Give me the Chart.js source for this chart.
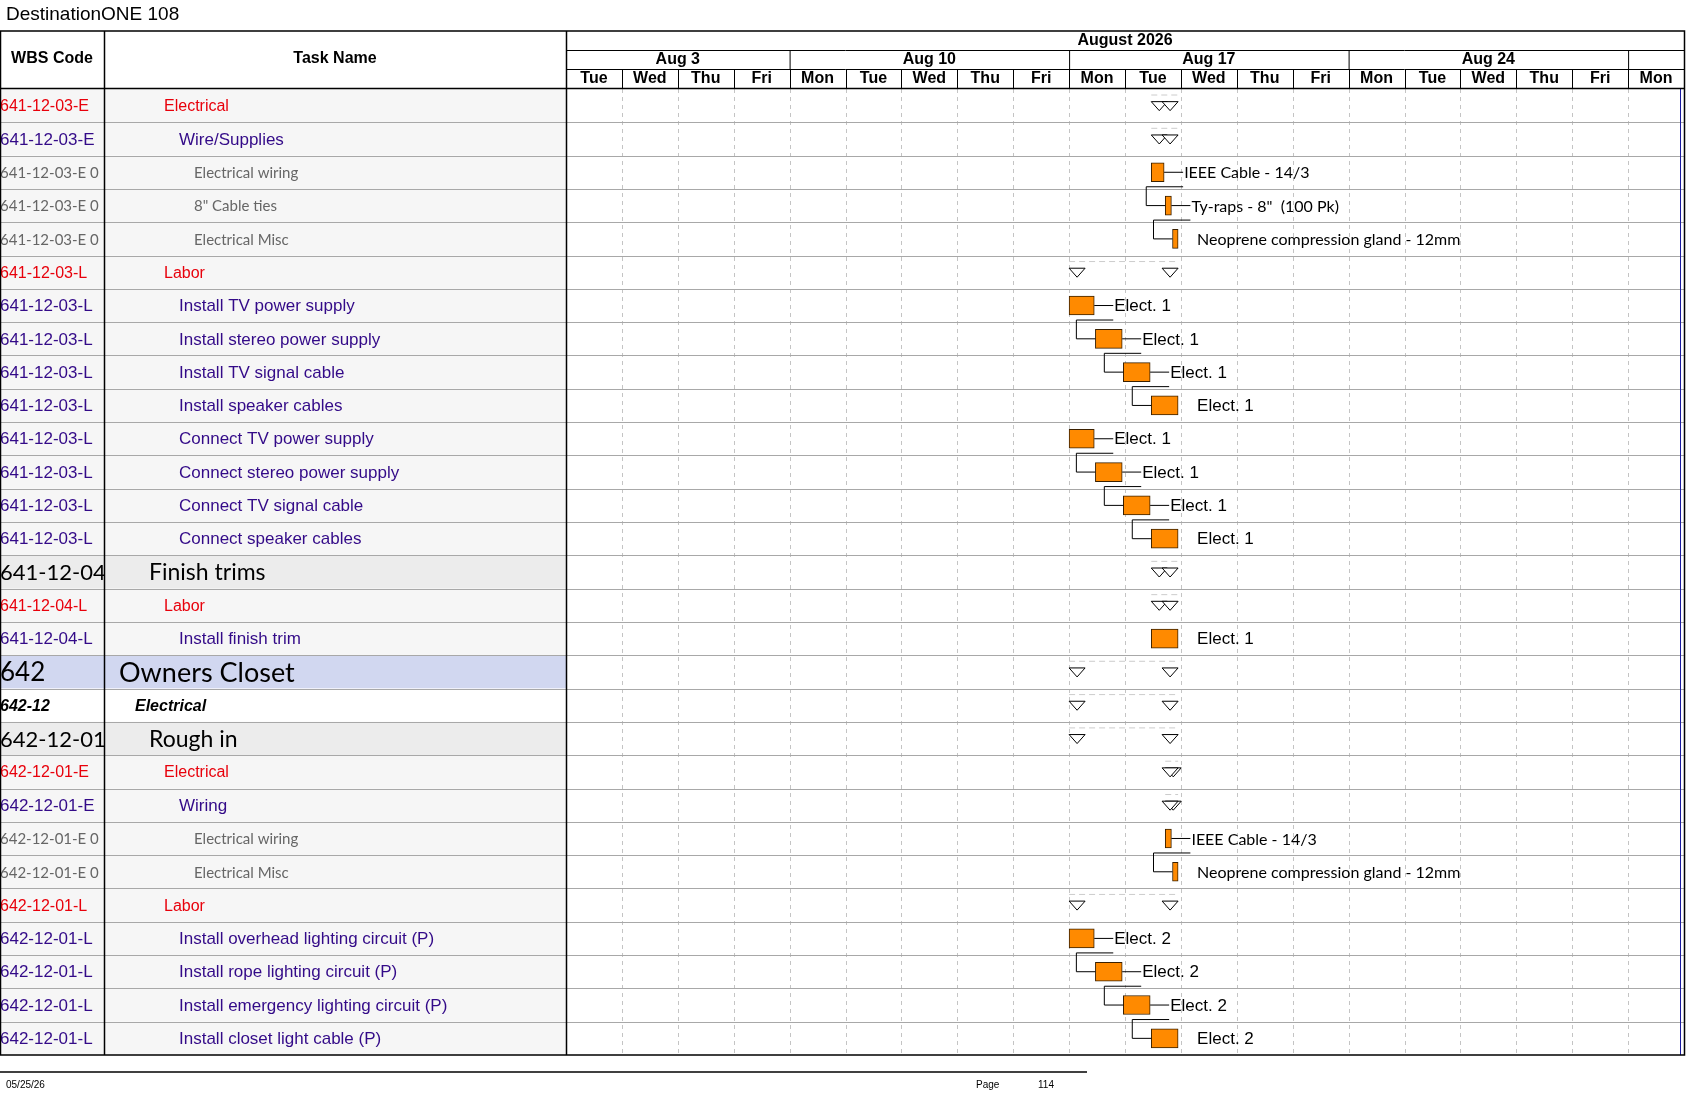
<!DOCTYPE html>
<html>
<head>
<meta charset="utf-8">
<script src="https://cdn.jsdelivr.net/npm/chart.js@4"></script>
<style>
  body { margin: 0; background: #fff; }
  canvas { display: block; }
</style>
</head>
<body>
<canvas id="gantt" width="1687" height="1097"></canvas>
<script>
/* ---------- DATA ---------- */
const wbsCodes = [
  "641-12-03-E", "641-12-03-E", "641-12-03-E 0", "641-12-03-E 0", "641-12-03-E 0",
  "641-12-03-L", "641-12-03-L", "641-12-03-L", "641-12-03-L", "641-12-03-L",
  "641-12-03-L", "641-12-03-L", "641-12-03-L", "641-12-03-L",
  "641-12-04", "641-12-04-L", "641-12-04-L",
  "642", "642-12", "642-12-01", "642-12-01-E", "642-12-01-E",
  "642-12-01-E 0", "642-12-01-E 0", "642-12-01-L",
  "642-12-01-L", "642-12-01-L", "642-12-01-L", "642-12-01-L"
];
const taskNames = [
  "Electrical", "Wire/Supplies", "Electrical wiring", "8\" Cable ties", "Electrical Misc",
  "Labor", "Install TV power supply", "Install stereo power supply", "Install TV signal cable", "Install speaker cables",
  "Connect TV power supply", "Connect stereo power supply", "Connect TV signal cable", "Connect speaker cables",
  "Finish trims", "Labor", "Install finish trim",
  "Owners Closet", "Electrical", "Rough in", "Electrical", "Wiring",
  "Electrical wiring", "Electrical Misc", "Labor",
  "Install overhead lighting circuit (P)", "Install rope lighting circuit (P)",
  "Install emergency lighting circuit (P)", "Install closet light cable (P)"
];
// outline level: cat = cost type, sub = task, mat = material, phase, area, trade
const rowLevels = [
  "cat", "sub", "mat", "mat", "mat",
  "cat", "sub", "sub", "sub", "sub", "sub", "sub", "sub", "sub",
  "phase", "cat", "sub",
  "area", "trade", "phase", "cat", "sub", "mat", "mat", "cat",
  "sub", "sub", "sub", "sub"
];
// working-day index: 0 = Tue Aug 4 ... 9 = Mon Aug 17
const taskStart = [
  null, null, 10.47, 10.72, 10.85,
  null, 9.0, 9.47, 9.97, 10.47, 9.0, 9.47, 9.97, 10.47,
  null, null, 10.47,
  null, null, null, null, null, 10.72, 10.85, null,
  9.0, 9.47, 9.97, 10.47
];
const taskEnd = [
  null, null, 10.7, 10.83, 10.95,
  null, 9.45, 9.95, 10.45, 10.95, 9.45, 9.95, 10.45, 10.95,
  null, null, 10.95,
  null, null, null, null, null, 10.83, 10.95, null,
  9.45, 9.95, 10.45, 10.95
];
const summaryStart = [
  10.47, 10.47, null, null, null,
  9.0, null, null, null, null, null, null, null, null,
  10.47, 10.47, null,
  9.0, 9.0, 9.0, 10.72, 10.72, null, null, 9.0,
  null, null, null, null
];
const summaryEnd = [
  10.95, 10.95, null, null, null,
  10.95, null, null, null, null, null, null, null, null,
  10.95, 10.95, null,
  10.95, 10.95, 10.95, 10.95, 10.95, null, null, 10.95,
  null, null, null, null
];
const resourceLabels = [
  "", "", "IEEE Cable - 14/3", "Ty-raps - 8\"  (100 Pk)", "Neoprene compression gland - 12mm",
  "", "Elect. 1", "Elect. 1", "Elect. 1", "Elect. 1", "Elect. 1", "Elect. 1", "Elect. 1", "Elect. 1",
  "", "", "Elect. 1",
  "", "", "", "", "", "IEEE Cable - 14/3", "Neoprene compression gland - 12mm", "",
  "Elect. 2", "Elect. 2", "Elect. 2", "Elect. 2"
];
const links = [[2, 3], [3, 4], [6, 7], [7, 8], [8, 9], [10, 11], [11, 12], [12, 13], [22, 23], [25, 26], [26, 27], [27, 28]];

const weekLabels = ["Aug 3", "Aug 10", "Aug 17", "Aug 24", ""];
const weekSpans = [4, 5, 5, 5, 1];
const dayLabels = ["Tue", "Wed", "Thu", "Fri", "Mon", "Tue", "Wed", "Thu", "Fri",
  "Mon", "Tue", "Wed", "Thu", "Fri", "Mon", "Tue", "Wed", "Thu", "Fri", "Mon"];
const monthLabel = "August 2026";

/* ---------- STYLE ---------- */
const LEFT_W = 566, WBS_W = 104, TOP = 31, BODY_TOP = 89, RIGHT = 1684, BOTTOM = 1055;
const rowStyle = {
  cat:   { color: "#e8000b", font: "16px Arial", x: 164, wbsFont: "16px Arial", bg: "#f6f6f6" },
  sub:   { color: "#330a88", font: "17px Arial", x: 179, wbsFont: "17px Arial", bg: "#f6f6f6" },
  mat:   { color: "#666666", font: "15px Lato", x: 194, wbsFont: "15px Lato", bg: "#f6f6f6" },
  phase: { color: "#000000", font: "23px Lato", x: 149, wbsFont: "22px Lato", bg: "#ececec" },
  area:  { color: "#000000", font: "27px Lato", x: 119, wbsFont: "26px Lato", bg: "#d1d7f0" },
  trade: { color: "#000000", font: "italic bold 16px Arial", x: 135, wbsFont: "italic bold 16px Arial", bg: "#ffffff" }
};

/* ---------- PLUGIN: table, header, grid, gantt extras ---------- */
const ganttPlugin = {
  id: "gantt",
  beforeDatasetsDraw(chart) {
    const { ctx, scales: { x, y } } = chart;
    const half = (y.getPixelForValue(1) - y.getPixelForValue(0)) / 2;
    ctx.save();
    // left table rows
    taskNames.forEach((name, i) => {
      const st = rowStyle[rowLevels[i]];
      const cy = y.getPixelForValue(i);
      ctx.fillStyle = st.bg;
      ctx.fillRect(0, cy - half, LEFT_W, half * 2);
      ctx.textBaseline = "middle";
      ctx.textAlign = "left";
      ctx.fillStyle = st.color;
      ctx.font = st.wbsFont;
      ctx.save();
      ctx.beginPath(); ctx.rect(0, cy - half, WBS_W, half * 2); ctx.clip();
      ctx.fillText(wbsCodes[i], 0, cy + 1);
      ctx.restore();
      ctx.font = st.font;
      ctx.fillText(name, st.x, cy + 1);
    });
    // day grid (dashed)
    ctx.strokeStyle = "#c4c4c4";
    ctx.lineWidth = 1;
    ctx.setLineDash([4, 4]);
    for (let d = 1; d < dayLabels.length; d++) {
      const px = Math.round(x.getPixelForValue(d)) + 0.5;
      ctx.beginPath(); ctx.moveTo(px, BODY_TOP); ctx.lineTo(px, BOTTOM); ctx.stroke();
    }
    ctx.setLineDash([]);
    // row separators
    ctx.strokeStyle = "#a8a8a8";
    for (let i = 1; i < taskNames.length; i++) {
      const py = Math.round(y.getPixelForValue(i) - half) + 0.5;
      ctx.beginPath(); ctx.moveTo(0, py); ctx.lineTo(RIGHT, py); ctx.stroke();
    }
    // summary dashed bars + triangles
    const sumMeta = chart.getDatasetMeta(1);
    sumMeta.data.forEach((el, i) => {
      if (summaryStart[i] == null) return;
      const a = x.getPixelForValue(summaryStart[i]);
      const b = x.getPixelForValue(summaryEnd[i]);
      const cy = el.y;
      ctx.strokeStyle = "#cccccc";
      ctx.setLineDash([6, 4]);
      ctx.beginPath(); ctx.moveTo(a, cy - half + 6); ctx.lineTo(b, cy - half + 6); ctx.stroke();
      ctx.setLineDash([]);
      ctx.strokeStyle = "#000";
      ctx.fillStyle = "#fff";
      const tri = (l) => {
        ctx.beginPath();
        ctx.moveTo(l, cy - 4); ctx.lineTo(l + 16, cy - 4); ctx.lineTo(l + 8, cy + 5); ctx.closePath();
        ctx.fill(); ctx.stroke();
      };
      tri(a); tri(b - 16);
    });
    // blue status line at right
    ctx.strokeStyle = "#1a1aa0";
    ctx.beginPath(); ctx.moveTo(RIGHT - 3.5, BODY_TOP); ctx.lineTo(RIGHT - 3.5, BOTTOM); ctx.stroke();
    ctx.restore();
  },
  afterDatasetsDraw(chart) {
    const { ctx, scales: { x, y } } = chart;
    const meta = chart.getDatasetMeta(0);
    ctx.save();
    ctx.strokeStyle = "#000";
    ctx.lineWidth = 1;
    // dependency links
    links.forEach(([from, to]) => {
      const a = meta.data[from], b = meta.data[to];
      const endX = x.getPixelForValue(taskEnd[from]);
      const startX = x.getPixelForValue(taskStart[to]);
      const turnY = a.y + 14.5;
      ctx.beginPath();
      ctx.moveTo(endX, a.y); ctx.lineTo(endX + 19, a.y);
      ctx.moveTo(endX + 19, turnY); ctx.lineTo(startX - 19, turnY);
      ctx.lineTo(startX - 19, b.y); ctx.lineTo(startX, b.y);
      ctx.stroke();
    });
    // resource labels
    ctx.textBaseline = "middle";
    ctx.textAlign = "left";
    ctx.fillStyle = "#000";
    resourceLabels.forEach((txt, i) => {
      if (!txt) return;
      const endX = x.getPixelForValue(taskEnd[i]);
      const hasLink = links.some(l => l[0] === i);
      ctx.font = rowLevels[i] === "mat" ? "16px Lato" : "17px Arial";
      ctx.fillText(txt, endX + (hasLink ? 20 : 19), meta.data[i].y + 1);
    });
    // header
    const x0 = x.getPixelForValue(0);
    ctx.fillStyle = "#000";
    ctx.font = "bold 16px Arial";
    ctx.textAlign = "center";
    ctx.fillText("WBS Code", WBS_W / 2, 59);
    ctx.fillText("Task Name", (WBS_W + LEFT_W) / 2, 59);
    ctx.fillText(monthLabel, (x0 + RIGHT) / 2, 41);
    let d = 0;
    weekLabels.forEach((w, k) => {
      const a = x.getPixelForValue(d), b = x.getPixelForValue(d + weekSpans[k]);
      ctx.fillText(w, (a + b) / 2, 60);
      if (d > 0) { ctx.beginPath(); ctx.moveTo(a + 0.5, 50); ctx.lineTo(a + 0.5, 69); ctx.stroke(); }
      d += weekSpans[k];
    });
    dayLabels.forEach((lab, k) => {
      const a = x.getPixelForValue(k), b = x.getPixelForValue(k + 1);
      ctx.fillText(lab, (a + b) / 2, 79);
      if (k > 0) { ctx.beginPath(); ctx.moveTo(Math.round(a) + 0.5, 69); ctx.lineTo(Math.round(a) + 0.5, BODY_TOP); ctx.stroke(); }
    });
    ctx.beginPath();
    ctx.moveTo(x0, 50.5); ctx.lineTo(RIGHT, 50.5);
    ctx.moveTo(x0, 69.5); ctx.lineTo(RIGHT, 69.5);
    ctx.stroke();
    ctx.lineWidth = 1.5;
    ctx.beginPath();
    ctx.rect(0.5, TOP, RIGHT, BOTTOM - TOP);
    ctx.moveTo(0, BODY_TOP - 0.5); ctx.lineTo(RIGHT, BODY_TOP - 0.5);
    ctx.moveTo(WBS_W + 0.5, TOP); ctx.lineTo(WBS_W + 0.5, BOTTOM);
    ctx.moveTo(LEFT_W + 0.5, TOP); ctx.lineTo(LEFT_W + 0.5, BOTTOM);
    ctx.stroke();
    // title + footer
    ctx.textAlign = "left";
    ctx.font = "19px Arial";
    ctx.fillText("DestinationONE 108", 6, 15);
    ctx.lineWidth = 1.5;
    ctx.beginPath(); ctx.moveTo(0, 1072); ctx.lineTo(1087, 1072); ctx.stroke();
    ctx.font = "10px Arial";
    ctx.fillText("05/25/26", 6, 1085);
    ctx.fillText("Page", 976, 1085);
    ctx.fillText("114", 1038, 1085);
    ctx.restore();
  }
};

/* ---------- CHART ---------- */
const rowIds = taskNames.map((_, i) => i);

new Chart(document.getElementById("gantt"), {
  type: "bar",
  data: {
    labels: rowIds,
    datasets: [
      {
        label: "Tasks",
        data: taskStart.map((s, i) => (s == null ? null : [s, taskEnd[i]])),
        backgroundColor: "#ff8a00",
        borderColor: "#3a2000",
        borderWidth: 1,
        borderSkipped: false,
        barThickness: 19,
        grouped: false
      },
      {
        label: "Summary",
        data: summaryStart.map((s, i) => (s == null ? null : [s, summaryEnd[i]])),
        backgroundColor: "rgba(0,0,0,0)",
        borderWidth: 0,
        barThickness: 10,
        grouped: false
      }
    ]
  },
  options: {
    indexAxis: "y",
    responsive: false,
    animation: false,
    devicePixelRatio: 1,
    layout: { padding: { left: LEFT_W, top: BODY_TOP, right: 1687 - RIGHT, bottom: 1097 - BOTTOM } },
    plugins: { legend: { display: false }, tooltip: { enabled: false } },
    scales: {
      x: { type: "linear", min: 0, max: dayLabels.length, display: false },
      y: { type: "category", display: false, offset: true }
    }
  },
  plugins: [ganttPlugin]
});
</script>
</body>
</html>
